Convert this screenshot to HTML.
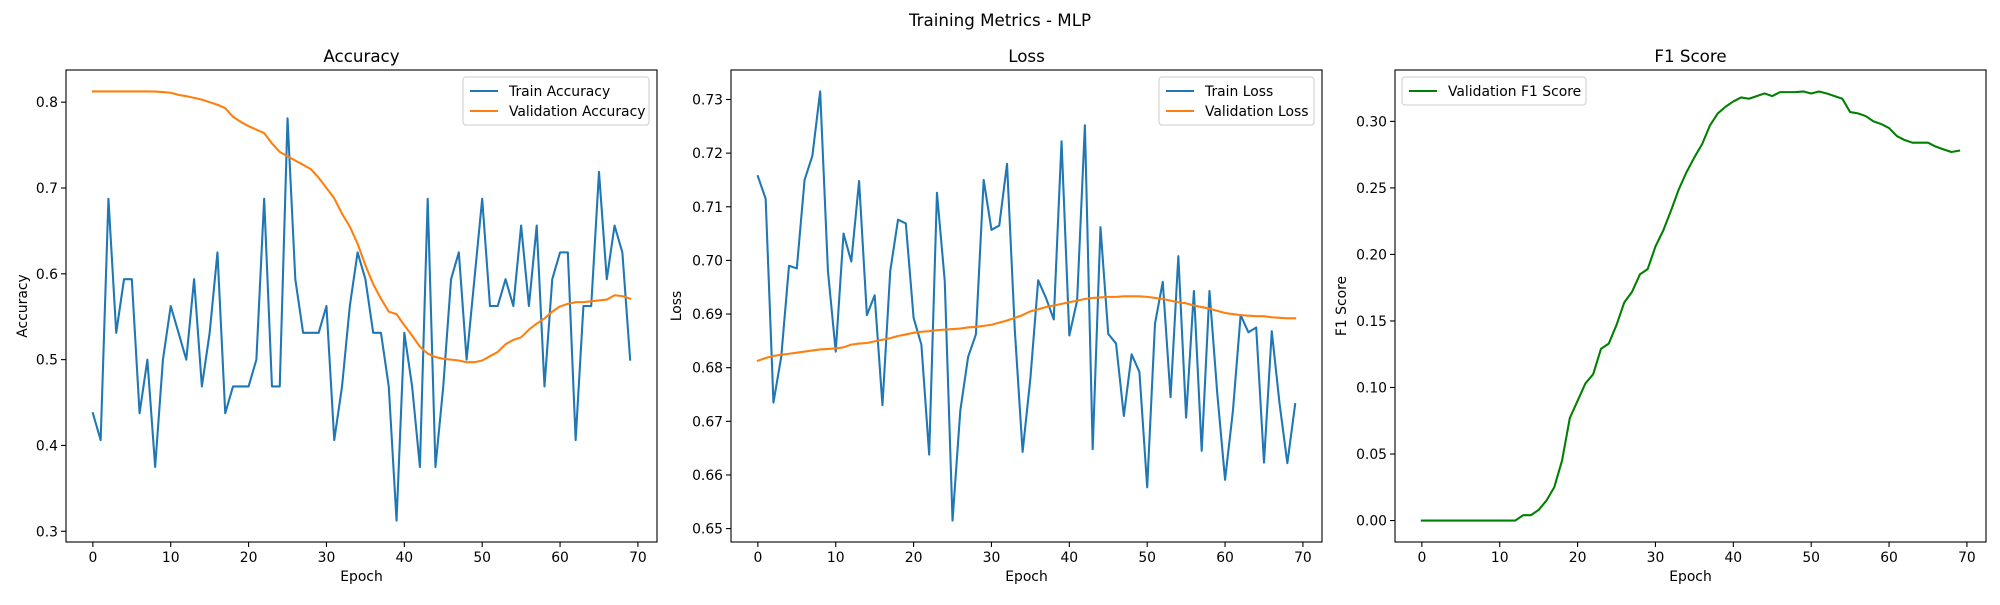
<!DOCTYPE html>
<html><head><meta charset="utf-8"><style>
body{margin:0;background:#fff}
svg text{font-family:"DejaVu Sans","Liberation Sans",sans-serif;fill:#000}
</style></head><body>
<svg id="fig" width="2000" height="600" viewBox="0 0 2000 600" xmlns="http://www.w3.org/2000/svg">
<rect width="2000" height="600" fill="#fff"/>
<text x="1000" y="26" font-size="16.7" text-anchor="middle">Training Metrics - MLP</text>
</svg>
<script>
const epochs = Array.from({length:70},(_,i)=>i);
const trainAcc = [0.4375,0.40625,0.6875,0.53125,0.59375,0.59375,0.4375,0.5,0.375,0.5,0.5625,0.53125,0.5,0.59375,0.46875,0.53125,0.625,0.4375,0.46875,0.46875,0.46875,0.5,0.6875,0.46875,0.46875,0.78125,0.59375,0.53125,0.53125,0.53125,0.5625,0.40625,0.46875,0.5625,0.625,0.59375,0.53125,0.53125,0.46875,0.3125,0.53125,0.46875,0.375,0.6875,0.375,0.46875,0.59375,0.625,0.5,0.59375,0.6875,0.5625,0.5625,0.59375,0.5625,0.65625,0.5625,0.65625,0.46875,0.59375,0.625,0.625,0.40625,0.5625,0.5625,0.71875,0.59375,0.65625,0.625,0.5];
const valAcc = [0.8125,0.8125,0.8125,0.8125,0.8125,0.8125,0.8125,0.8125,0.8124,0.8118,0.811,0.8085,0.807,0.805,0.803,0.8,0.797,0.793,0.783,0.777,0.772,0.768,0.764,0.752,0.742,0.737,0.732,0.727,0.722,0.712,0.7,0.688,0.67,0.655,0.635,0.61,0.588,0.571,0.556,0.553,0.54,0.528,0.515,0.507,0.503,0.501,0.5,0.499,0.497,0.497,0.499,0.504,0.509,0.518,0.523,0.526,0.535,0.542,0.548,0.556,0.562,0.565,0.567,0.567,0.568,0.569,0.57,0.575,0.574,0.571];
const trainLoss = [0.7157,0.7115,0.6735,0.682,0.699,0.6985,0.715,0.7195,0.7315,0.698,0.683,0.705,0.6998,0.7148,0.6898,0.6935,0.673,0.698,0.7076,0.7069,0.6893,0.6843,0.6638,0.7126,0.6962,0.6515,0.672,0.682,0.6862,0.715,0.7057,0.7065,0.718,0.687,0.6643,0.678,0.6963,0.693,0.689,0.7222,0.686,0.6925,0.7252,0.6648,0.7062,0.6863,0.6845,0.671,0.6825,0.6792,0.6577,0.6882,0.696,0.6745,0.7008,0.6707,0.6943,0.6645,0.6943,0.6752,0.6591,0.6718,0.6898,0.6866,0.6875,0.6623,0.6868,0.6733,0.6622,0.6732];
const valLoss = [0.6813,0.6818,0.6822,0.6824,0.6826,0.6828,0.683,0.6832,0.6834,0.6835,0.6836,0.6838,0.6843,0.6845,0.6846,0.6849,0.6852,0.6855,0.6859,0.6862,0.6865,0.6867,0.6868,0.687,0.6871,0.6872,0.6873,0.6875,0.6876,0.6878,0.688,0.6884,0.6888,0.6893,0.6898,0.6905,0.6909,0.6913,0.6916,0.6919,0.6922,0.6925,0.6928,0.693,0.6931,0.6932,0.6932,0.6933,0.6933,0.6933,0.6932,0.693,0.6928,0.6925,0.6922,0.692,0.6916,0.6913,0.691,0.6906,0.6902,0.69,0.6898,0.6897,0.6896,0.6896,0.6894,0.6893,0.6892,0.6892];
const valF1 = [0,0,0,0,0,0,0,0,0,0,0,0,0,0.004,0.004,0.008,0.015,0.025,0.045,0.077,0.09,0.103,0.11,0.129,0.133,0.147,0.164,0.172,0.185,0.189,0.206,0.218,0.233,0.249,0.262,0.273,0.283,0.297,0.306,0.311,0.315,0.318,0.317,0.319,0.321,0.319,0.322,0.322,0.322,0.3225,0.321,0.3225,0.321,0.319,0.317,0.307,0.306,0.304,0.3,0.298,0.295,0.289,0.286,0.284,0.284,0.284,0.281,0.279,0.277,0.278];
const xTicks = [0,10,20,30,40,50,60,70];
const accTicks = [0.3,0.4,0.5,0.6,0.7,0.8];
const lossTicks = [0.65,0.66,0.67,0.68,0.69,0.70,0.71,0.72,0.73];
const f1Ticks = [0,0.05,0.1,0.15,0.2,0.25,0.3];

const NS='http://www.w3.org/2000/svg';
const fig=document.getElementById('fig');
function mk(tag,attrs,parent){const e=document.createElementNS(NS,tag);for(const k in attrs)e.setAttribute(k,attrs[k]);(parent||fig).appendChild(e);return e;}

function plot(cfg){
  const L=cfg.left,R=cfg.left+591,T=70,B=542;
  const g=mk('g',{});
  
  
  let lo=Infinity,hi=-Infinity;
  cfg.series.forEach(s=>s.data.forEach(v=>{lo=Math.min(lo,v);hi=Math.max(hi,v);}));
  const pad=(hi-lo)*0.05; lo-=pad; hi+=pad;
  const x0=-3.45,x1=72.45;
  const sx=v=>L+(v-x0)/(x1-x0)*(R-L);
  const sy=v=>B-(v-lo)/(hi-lo)*(B-T);
  // title
  const t=mk('text',{x:(L+R)/2,y:T-8,'font-size':16.7,'text-anchor':'middle'},g);
  t.textContent=cfg.title;
  
  
  // series
  cfg.series.forEach(s=>{
    const p=mk('polyline',{points:s.data.map((v,i)=>sx(epochs[i]).toFixed(2)+','+sy(v).toFixed(2)).join(' '),fill:'none',stroke:s.color,'stroke-width':2.08,'stroke-linejoin':'round','stroke-linecap':'square'},g);
    
    
  });
  mk('rect',{x:L,y:T,width:R-L,height:B-T,fill:'none',stroke:'#000','stroke-width':1.1},g);
  // x ticks
  xTicks.forEach(v=>{
    const x=sx(v);
    mk('line',{x1:x,y1:B,x2:x,y2:B+5,stroke:'#000','stroke-width':1.1},g);
    const tx=mk('text',{x:x,y:B+20,'font-size':13.9,'text-anchor':'middle'},g);
    tx.textContent=v;
    
    
  });
  cfg.ticks.forEach(v=>{
    const y=sy(v);
    mk('line',{x1:L-5,y1:y,x2:L,y2:y,stroke:'#000','stroke-width':1.1},g);
    const ty=mk('text',{x:L-8,y:y+5,'font-size':13.9,'text-anchor':'end'},g);
    ty.textContent=v.toFixed(cfg.dec);
    
    
  });
  const xl=mk('text',{x:(L+R)/2,y:581,'font-size':13.9,'text-anchor':'middle'},g);
  xl.textContent='Epoch';
  
  
  const yx=cfg.ylabX, yy=(T+B)/2;
  const yl=mk('text',{x:yx,y:yy,'font-size':13.9,'text-anchor':'middle',transform:`rotate(-90 ${yx} ${yy})`},g);
  yl.textContent=cfg.ylabel;
  
  
  // legend
  const lg=cfg.legend;
  const lgG=mk('g',{},g);
  
  
  mk('rect',{x:lg.x,y:lg.y,width:lg.w,height:8+cfg.series.length*20,rx:3,fill:'#fff','fill-opacity':0.8,stroke:'#ccc','stroke-width':1},lgG);
  cfg.series.forEach((s,i)=>{
    const yy2=lg.y+14+i*20;
    mk('line',{x1:lg.x+7,y1:yy2,x2:lg.x+35,y2:yy2,stroke:s.color,'stroke-width':2.08},lgG);
    const te=mk('text',{x:lg.x+46,y:yy2+5,'font-size':13.9},lgG);
    te.textContent=s.label;
    
    
  });
}

plot({name:'accuracy',title:'Accuracy',left:66,ticks:accTicks,dec:1,ylabel:'Accuracy',ylabX:27,
  legend:{x:463,y:77,w:186},
  series:[{id:'train-accuracy',label:'Train Accuracy',data:trainAcc,color:'#1f77b4'},
          {id:'validation-accuracy',label:'Validation Accuracy',data:valAcc,color:'#ff7f0e'}]});
plot({name:'loss',title:'Loss',left:731,ticks:lossTicks,dec:2,ylabel:'Loss',ylabX:681,
  legend:{x:1159,y:77,w:155},
  series:[{id:'train-loss',label:'Train Loss',data:trainLoss,color:'#1f77b4'},
          {id:'validation-loss',label:'Validation Loss',data:valLoss,color:'#ff7f0e'}]});
plot({name:'f1',title:'F1 Score',left:1395,ticks:f1Ticks,dec:2,ylabel:'F1 Score',ylabX:1346,
  legend:{x:1402,y:77,w:184},
  series:[{id:'validation-f1',label:'Validation F1 Score',data:valF1,color:'#008000'}]});
</script>
</body></html>
